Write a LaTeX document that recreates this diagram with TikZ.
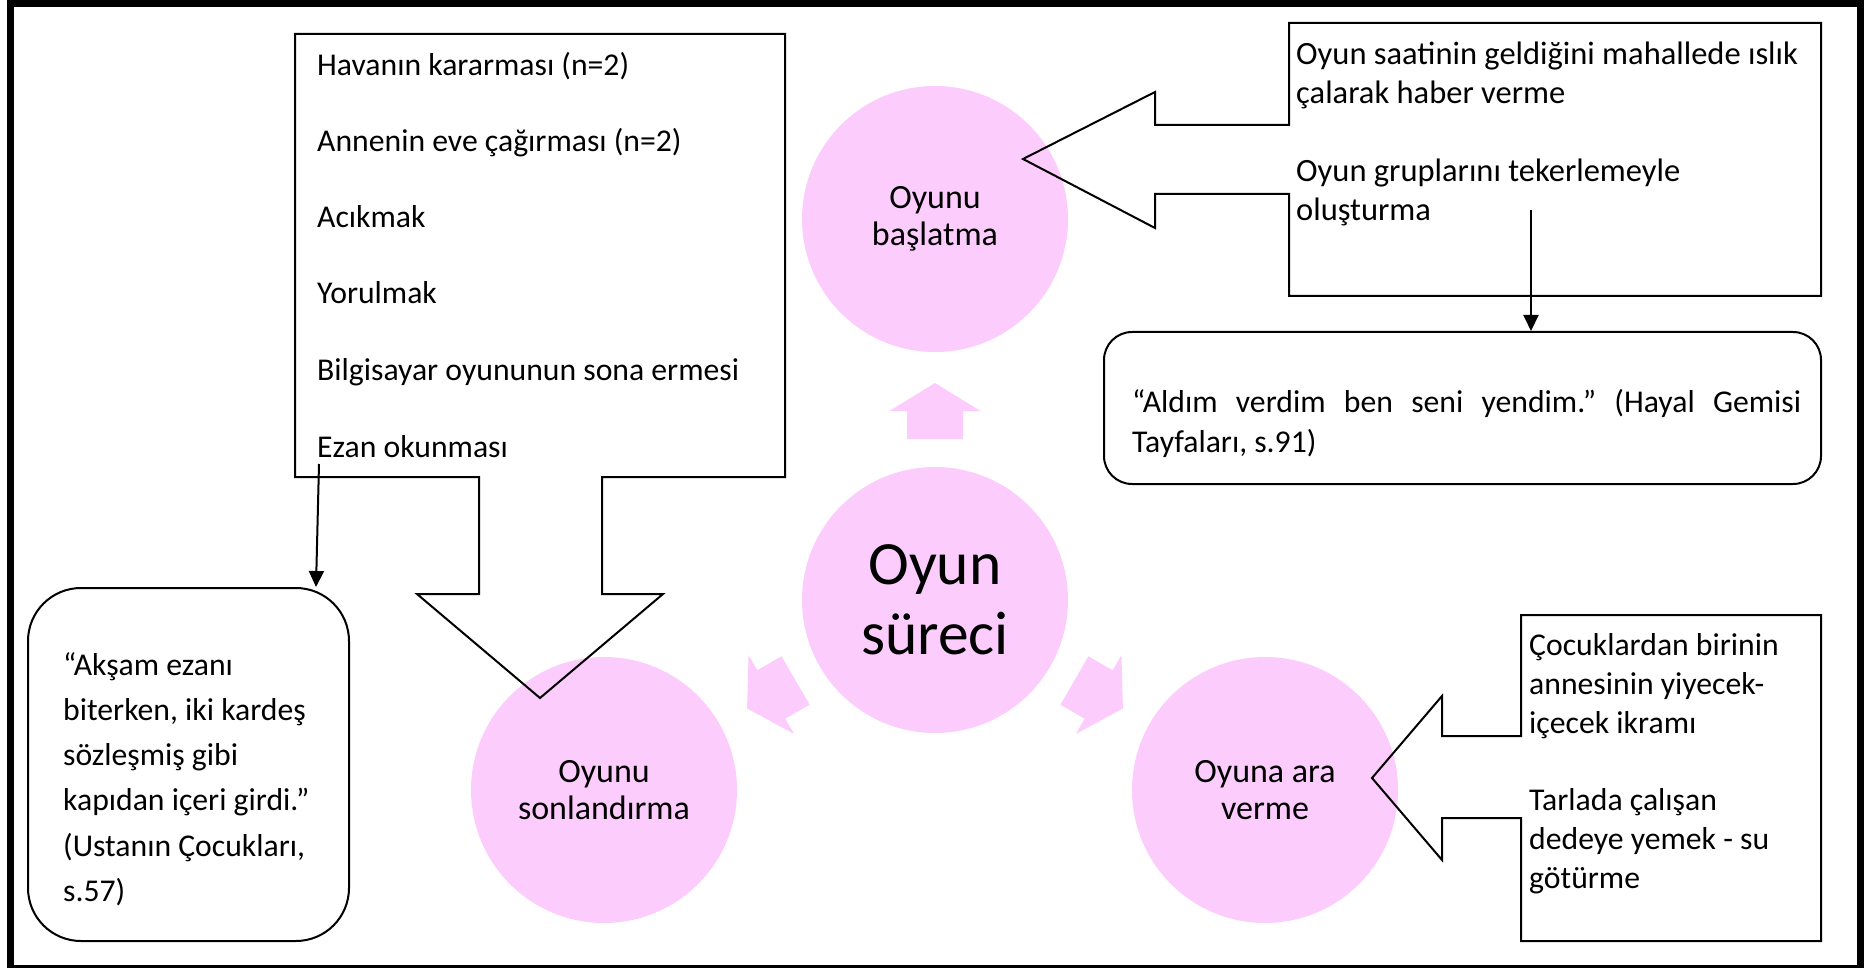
\documentclass[tikz,border=0pt]{standalone}
\usepackage{fontspec}
\setmainfont{Carlito}
\usepackage{xcolor}
\usetikzlibrary{arrows.meta}
\frenchspacing

\definecolor{oyunpembe}{RGB}{252,204,252}
\tikzset{
	daire/.style={circle, fill=oyunpembe, inner sep=0pt, minimum size=266pt, align=center, font=\fontsize{34}{37}\selectfont},
	kutu/.style={draw, line width=2pt},
	alinti/.style={draw, line width=2pt, inner sep=0pt},
	liste/.style={anchor=base west, inner sep=0pt, font=\fontsize{31.7}{38}\selectfont},
	madde/.style={anchor=base west, inner sep=0pt, font=\fontsize{31.7}{38}\selectfont},
	ust/.style={anchor=base west, inner sep=0pt, font=\fontsize{32.5}{38}\selectfont},
	ok/.style={line width=2pt, -{Triangle[length=16pt, width=15pt]}}
}

\begin{document}
\begin{tikzpicture}[x=1pt, y=-1pt]
			\useasboundingbox (0,0) rectangle (1872,968);
			\draw[line width=7pt] (10,3.5) rectangle (1860.5,968);
			
			\node[daire, font=\fontsize{61.5}{70}\selectfont] (surec) at (935,600) {Oyun\\süreci};
			\node[daire] (baslatma) at (935,219) {Oyunu\\başlatma};
			\node[daire] (sonlandirma) at (604,790) {Oyunu\\sonlandırma};
			\node[daire] (araverme) at (1265,790) {Oyuna ara\\verme};
			
			\foreach \aci in {0,120,240}
				\fill[oyunpembe, shift={(surec.center)}, rotate=\aci] (0,-217) -- (45.5,-189) -- (28,-189) -- (28,-161) -- (-28,-161) -- (-28,-189) -- (-45.5,-189) -- cycle;
			
			\draw[kutu] (295,34) -- (785,34) -- (785,477) -- (602,477) -- (602,594) -- (663,594) -- (540,698) -- (417,594) -- (479,594) -- (479,477) -- (295,477) -- cycle;
			\draw[kutu] (1289,23) -- (1821,23) -- (1821,296) -- (1289,296) -- (1289,194) -- (1155,194) -- (1155,228) -- (1023,159) -- (1155,92) -- (1155,125) -- (1289,125) -- cycle;
			\draw[kutu] (1521,615) -- (1821,615) -- (1821,941) -- (1521,941) -- (1521,818) -- (1442,818) -- (1442,860) -- (1372,778) -- (1442,696) -- (1442,736) -- (1521,736) -- cycle;
			
			\node[alinti, rounded corners=53pt, minimum width=321pt, minimum height=353pt] (aksam) at (188.5,764.5) {};
			\node[alinti, rounded corners=28pt, minimum width=717pt, minimum height=152pt] (aldim) at (1462.5,408) {};
			
			\node[liste] (havanin) at (317,76) {Havanın kararması (n=2)};
			\node[liste] (annenin) at (317,152) {Annenin eve çağırması (n=2)};
			\node[liste] (acikmak) at (317,228) {Acıkmak};
			\node[liste] (yorulmak) at (317,304) {Yorulmak};
			\node[liste] (bilgisayar) at (317,381) {Bilgisayar oyununun sona ermesi};
			\node[liste] (ezan) at (317,457) {Ezan okunması};
			
			\node[ust] (islik1) at (1296,65) {Oyun saatinin geldiğini mahallede ıslık};
			\node[ust] (islik2) at (1296,104) {çalarak haber verme};
			\node[ust] (grup1) at (1296,182) {Oyun gruplarını tekerlemeyle};
			\node[ust] (grup2) at (1296,221) {oluşturma};
			
			\node[madde] (ikram1) at (1529,655) {Çocuklardan birinin};
			\node[madde] (ikram2) at (1529,694) {annesinin yiyecek-};
			\node[madde] (ikram3) at (1529,733) {içecek ikramı};
			\node[madde] (dede1) at (1529,810) {Tarlada çalışan};
			\node[madde] (dede2) at (1529,849) {dedeye yemek - su};
			\node[madde] (dede3) at (1529,888) {götürme};
			
			\node[madde] (aldim1) at (1132,412) {\makebox[669pt][s]{“Aldım verdim ben seni yendim.” (Hayal Gemisi}};
			\node[madde] (aldim2) at (1132,452) {Tayfaları, s.91)};
			
			\node[madde] (aksam1) at (63,675) {“Akşam ezanı};
			\node[madde] (aksam2) at (63,720) {biterken, iki kardeş};
			\node[madde] (aksam3) at (63,765) {sözleşmiş gibi};
			\node[madde] (aksam4) at (63,810) {kapıdan içeri girdi.”};
			\node[madde] (aksam5) at (63,856) {(Ustanın Çocukları,};
			\node[madde] (aksam6) at (63,901) {s.57)};
			
			\coordinate (ezanucu) at (319,464);
			\draw[ok] (ezanucu) -- ([xshift=-3pt]ezanucu |- aksam.north);
			\coordinate (grupucu) at (1531,210);
			\draw[ok] (grupucu) -- (grupucu |- aldim.north);
\end{tikzpicture}
\end{document}
